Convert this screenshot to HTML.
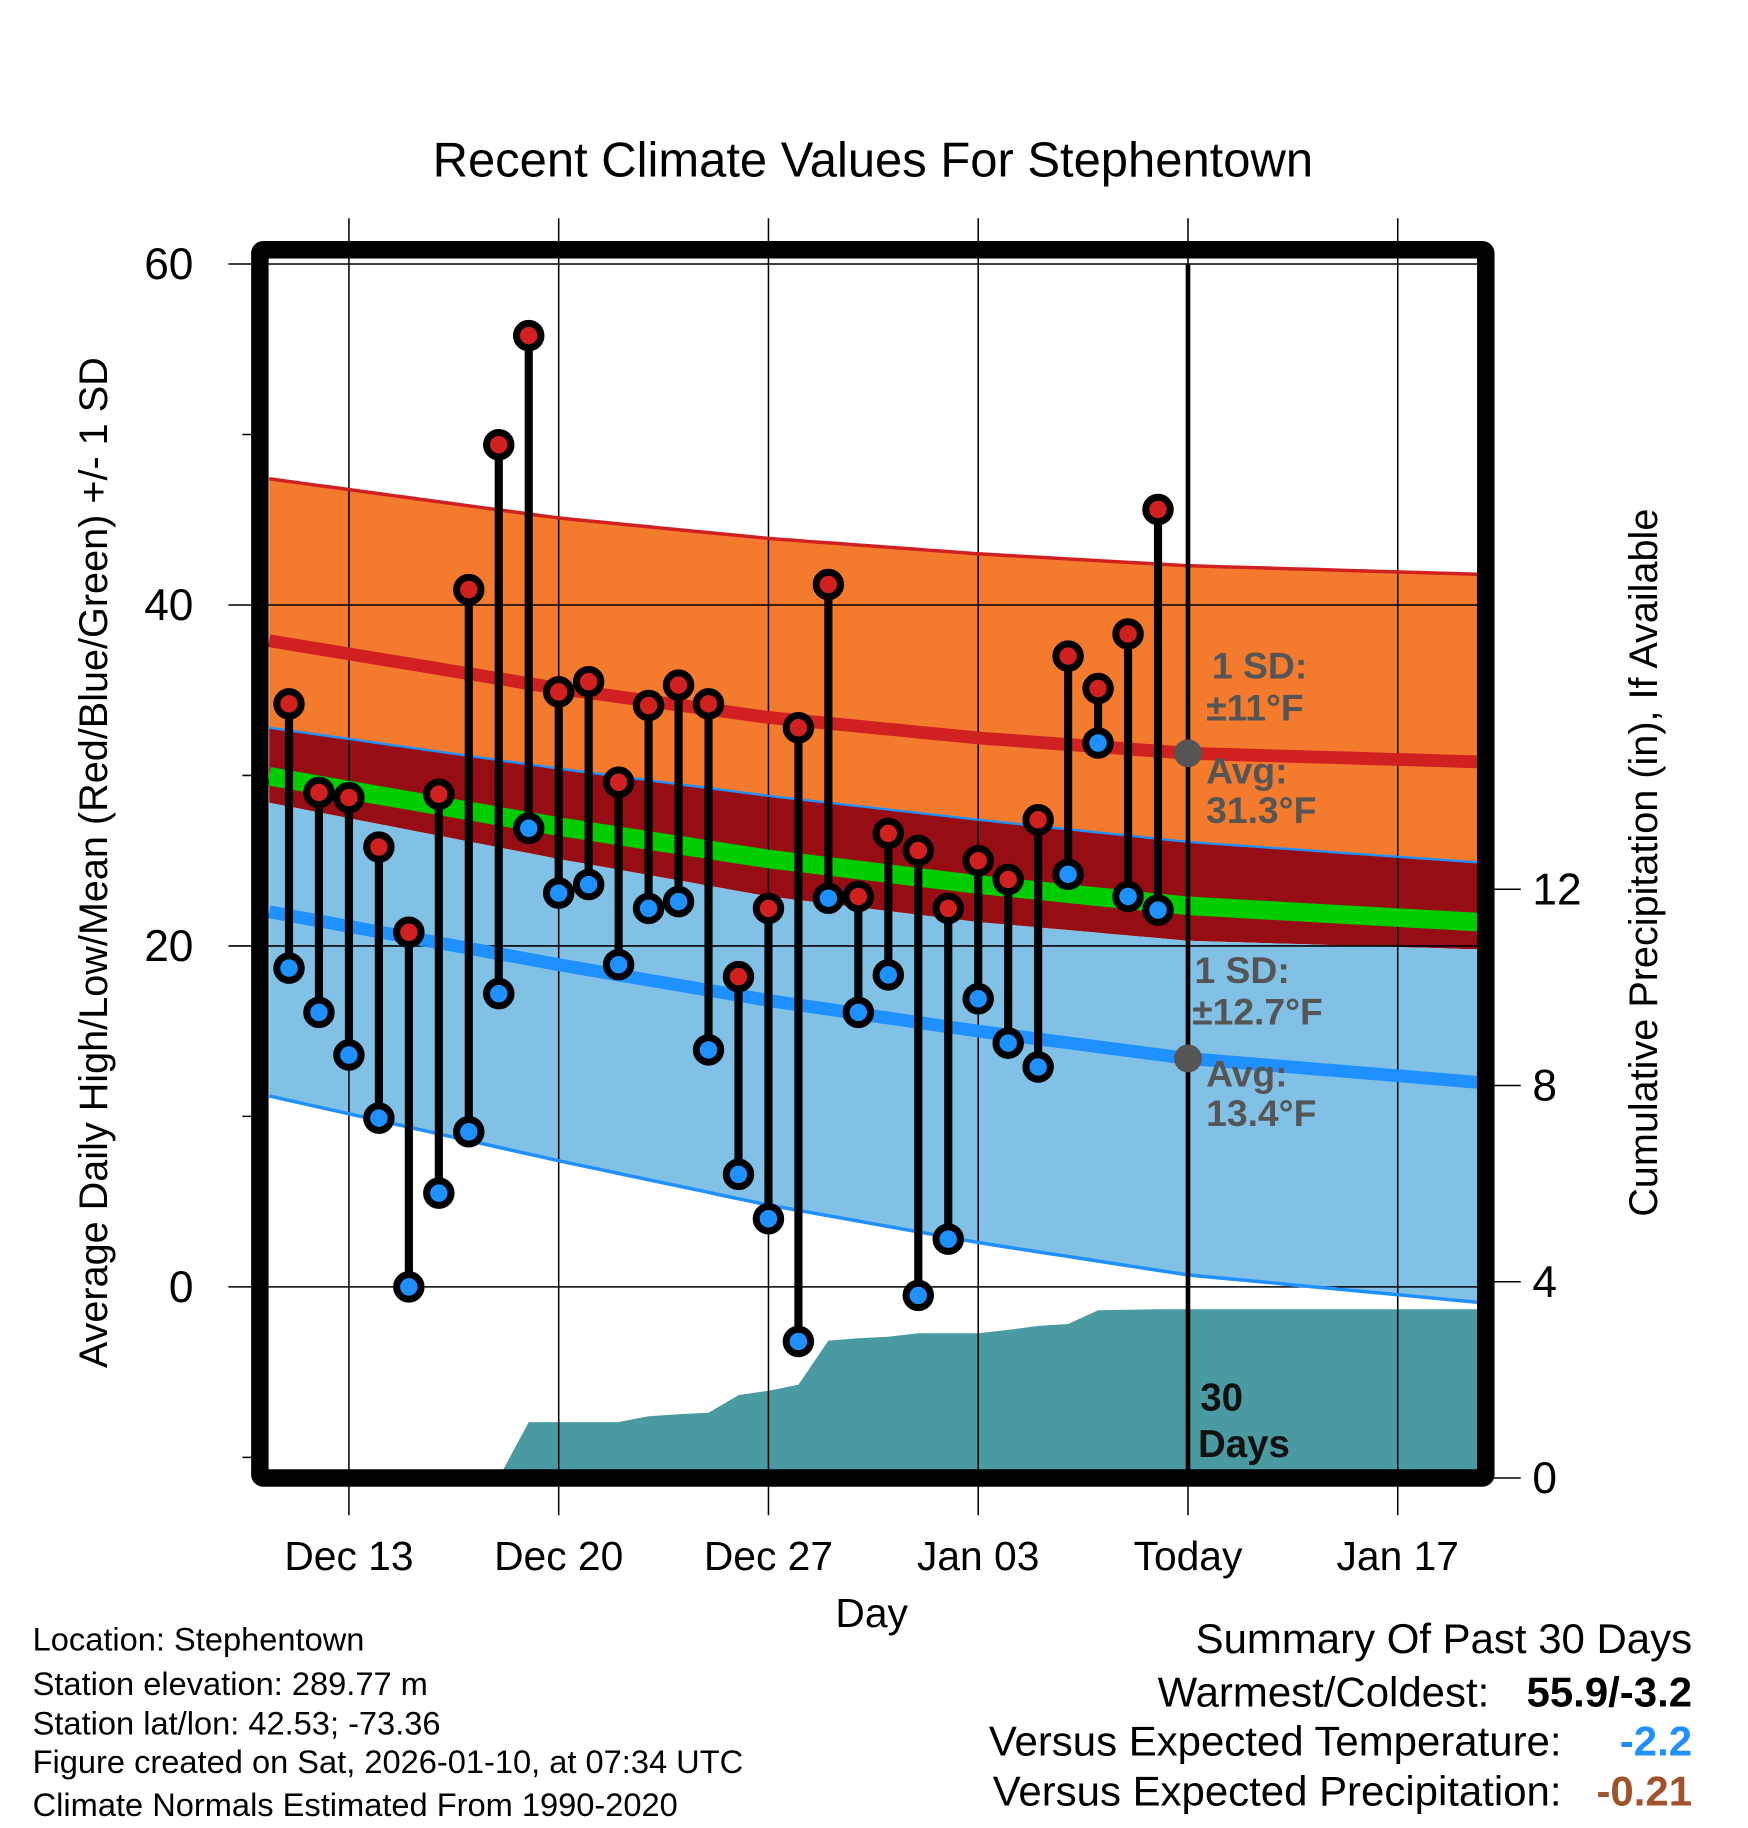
<!DOCTYPE html>
<html><head><meta charset="utf-8"><style>
html,body{margin:0;padding:0;background:#fff}
svg{display:block}
text{font-family:"Liberation Sans",Arial,sans-serif}
</style></head><body>
<svg id="chart" width="1748" height="1828" viewBox="0 0 1500 1568" xmlns="http://www.w3.org/2000/svg">
<g id="bands"></g>
<g id="precip"></g>
<g id="grid"></g>
<g id="lines"></g>
<g id="today"></g>
<g id="marks"></g>
<g id="annot"></g>
<rect x="223" y="214" width="1052" height="1054" fill="none" stroke="#000" stroke-width="15" rx="3"/>
<g id="axes"></g>
<text x="749" y="151" font-size="42" text-anchor="middle">Recent Climate Values For Stephentown</text>
<text transform="translate(92,740) rotate(-90)" font-size="34" text-anchor="middle">Average Daily High/Low/Mean (Red/Blue/Green) +/- 1 SD</text>
<text transform="translate(1422,740) rotate(-90)" font-size="34" text-anchor="middle">Cumulative Precipitation (in), If Available</text>
<text x="748" y="1396" font-size="35" text-anchor="middle">Day</text>
<g font-size="28">
<text x="28" y="1416">Location: Stephentown</text>
<text x="28" y="1454">Station elevation: 289.77 m</text>
<text x="28" y="1488">Station lat/lon: 42.53; -73.36</text>
<text x="28" y="1521">Figure created on Sat, 2026-01-10, at 07:34 UTC</text>
<text x="28" y="1558">Climate Normals Estimated From 1990-2020</text>
</g>
<g font-size="36">
<text x="1452" y="1418" text-anchor="end">Summary Of Past 30 Days</text>
<text x="1278" y="1464" text-anchor="end">Warmest/Coldest:</text>
<text x="1452" y="1464" text-anchor="end" font-weight="bold">55.9/-3.2</text>
<text x="1340" y="1506" text-anchor="end">Versus Expected Temperature:</text>
<text x="1452" y="1506" text-anchor="end" font-weight="bold" fill="#1e90ff">-2.2</text>
<text x="1340" y="1549" text-anchor="end">Versus Expected Precipitation:</text>
<text x="1452" y="1549" text-anchor="end" font-weight="bold" fill="#a0522d">-0.21</text>
</g>
</svg>
<script>
const highs=[34.2,29.0,28.7,25.8,20.8,28.9,40.9,49.4,55.8,34.9,35.5,29.6,34.1,35.3,34.2,18.2,22.2,32.8,41.2,22.9,26.6,25.6,22.2,25.0,23.9,27.4,37.0,35.1,38.3,45.6];
const lows=[18.7,16.1,13.6,9.9,0.0,5.5,9.1,17.2,26.9,23.1,23.6,18.9,22.2,22.6,13.9,6.6,4.0,-3.2,22.8,16.1,18.3,-0.5,2.8,16.9,14.3,12.9,24.2,31.9,22.9,22.1];
const precip=[0,0,0,0,0,0,0,0,1.14,1.14,1.14,1.14,1.26,1.30,1.33,1.69,1.78,1.90,2.80,2.85,2.88,2.95,2.95,2.95,3.02,3.10,3.14,3.42,3.43,3.44];
const normDays=[-0.66,9,16,23,30,39.66];
const normHigh=[37.9,35.1,33.4,32.2,31.3,30.8];
const sdHigh=[9.5,10.0,10.5,10.8,11.0,11.0];
const normLow=[22.0,18.9,16.8,15.0,13.4,12.0];
const sdLow=[10.8,11.5,12.0,12.4,12.7,12.9];
const xTickDays=[2,9,16,23,30,37];
const xTickLabels=["Dec 13","Dec 20","Dec 27","Jan 03","Today","Jan 17"];
const yTicks=[60,40,20,0];
const yMinor=[50,30,10,-10];
const pTicks=[0,4,8,12];

const NS="http://www.w3.org/2000/svg";
const X=d=>248+d*(180/7);
const Y=v=>1104-v*14.63;
const P=v=>1268-v*42.1;
function mk(parent,tag,attrs,txt){const e=document.createElementNS(NS,tag);for(const k in attrs)e.setAttribute(k,attrs[k]);if(txt!==undefined)e.textContent=txt;document.getElementById(parent).appendChild(e);return e;}
const dStart=normDays[0],dEnd=normDays[normDays.length-1];
const fine=[];for(let d=dStart;d<dEnd;d+=0.5)fine.push(d);fine.push(dEnd);
function interp(arr,d){for(let i=0;i<normDays.length-1;i++){if(d<=normDays[i+1]){const t=(d-normDays[i])/(normDays[i+1]-normDays[i]);return arr[i]+t*(arr[i+1]-arr[i]);}}return arr[arr.length-1];}
const hiU=fine.map(d=>interp(normHigh,d)+interp(sdHigh,d));
const hiL=fine.map(d=>interp(normHigh,d)-interp(sdHigh,d));
const loU=fine.map(d=>interp(normLow,d)+interp(sdLow,d));
const loL=fine.map(d=>interp(normLow,d)-interp(sdLow,d));
const pts=(a)=>fine.map((d,i)=>X(d).toFixed(1)+","+Y(a[i]).toFixed(1));
function band(top,bot,fill,name){const p=pts(top).concat(pts(bot).reverse());const e=mk('bands','polygon',{points:p.join(' '),fill:fill});}
band(hiU,loU,'#f47b2e','high-sd-band');
band(loU,hiL,'#960e14','overlap-band');
band(hiL,loL,'#82c1e6','low-sd-band');
function line(arr,color,w,name){const e=mk('lines','polyline',{points:pts(arr).join(' '),fill:'none',stroke:color,'stroke-width':w});}
line(fine.map(d=>(interp(normHigh,d)+interp(normLow,d))/2),'#00cc00',16,'normal-mean-line');
line(fine.map(d=>interp(normHigh,d)),'#d02020',11,'normal-high-line');
line(fine.map(d=>interp(normLow,d)),'#1e90ff',11,'normal-low-line');
line(hiU,'#d02020',3,'high-upper-sd-line');
line(loU,'#1e90ff',2,'low-upper-sd-line');
line(loL,'#1e90ff',3,'low-lower-sd-line');
{let p=[X(0)+","+P(0)];precip.forEach((v,i)=>p.push(X(i)+","+P(v)));p.push("1268,"+P(precip[precip.length-1]));p.push("1268,"+P(0));
const e=mk('precip','polygon',{points:p.join(' '),fill:'#4a9aa2'});}
xTickDays.forEach((d,i)=>{const g=mk('grid','line',{x1:X(d),x2:X(d),y1:187,y2:1300,stroke:'#000','stroke-width':1.3});
const t=mk('axes','text',{x:X(d),y:1347,'font-size':35,'text-anchor':'middle'},xTickLabels[i]);});
yTicks.forEach(v=>{const g=mk('grid','line',{x1:196,x2:1268,y1:Y(v),y2:Y(v),stroke:'#000','stroke-width':1.3});
const t=mk('axes','text',{x:166,y:Y(v)+13,'font-size':38,'text-anchor':'end'},String(v));});
yMinor.forEach(v=>{const g=mk('axes','line',{x1:208,x2:222,y1:Y(v),y2:Y(v),stroke:'#000','stroke-width':1.3});});
pTicks.forEach(v=>{const g=mk('axes','line',{x1:1276,x2:1305,y1:P(v),y2:P(v),stroke:'#000','stroke-width':1.3});
const t=mk('axes','text',{x:1315,y:P(v)+13,'font-size':38},String(v));});
{const e=mk('today','line',{x1:X(30),x2:X(30),y1:226,y2:1262,stroke:'#000','stroke-width':4});
const a=mk('today','circle',{cx:X(30),cy:Y(normHigh[4]),r:12,fill:'#555'});
const b=mk('today','circle',{cx:X(30),cy:Y(normLow[4]),r:12,fill:'#555'});}
highs.forEach((h,i)=>{const l=lows[i];
const s=mk('marks','line',{x1:X(i),x2:X(i),y1:Y(h),y2:Y(l),stroke:'#000','stroke-width':7});
const c1=mk('marks','circle',{cx:X(i),cy:Y(h),r:10.5,fill:'#d02020',stroke:'#000','stroke-width':6});
const c2=mk('marks','circle',{cx:X(i),cy:Y(l),r:10.5,fill:'#1e90ff',stroke:'#000','stroke-width':6});});
[[1040,582,'1 SD:'],[1035,618,'±11°F'],[1035,672,'Avg:'],[1035,706,'31.3°F'],[1025,843,'1 SD:'],[1023,879,'±12.7°F'],[1035,932,'Avg:'],[1035,966,'13.4°F']].forEach(a=>{
const t=mk('annot','text',{x:a[0],y:a[1],'font-size':32,'font-weight':'bold',fill:'#555'},a[2]);});
[[1030,1210,'30'],[1028,1250,'Days']].forEach(a=>{const t=mk('annot','text',{x:a[0],y:a[1],'font-size':33,'font-weight':'bold',fill:'#111'},a[2]);});
</script>
</body></html>
